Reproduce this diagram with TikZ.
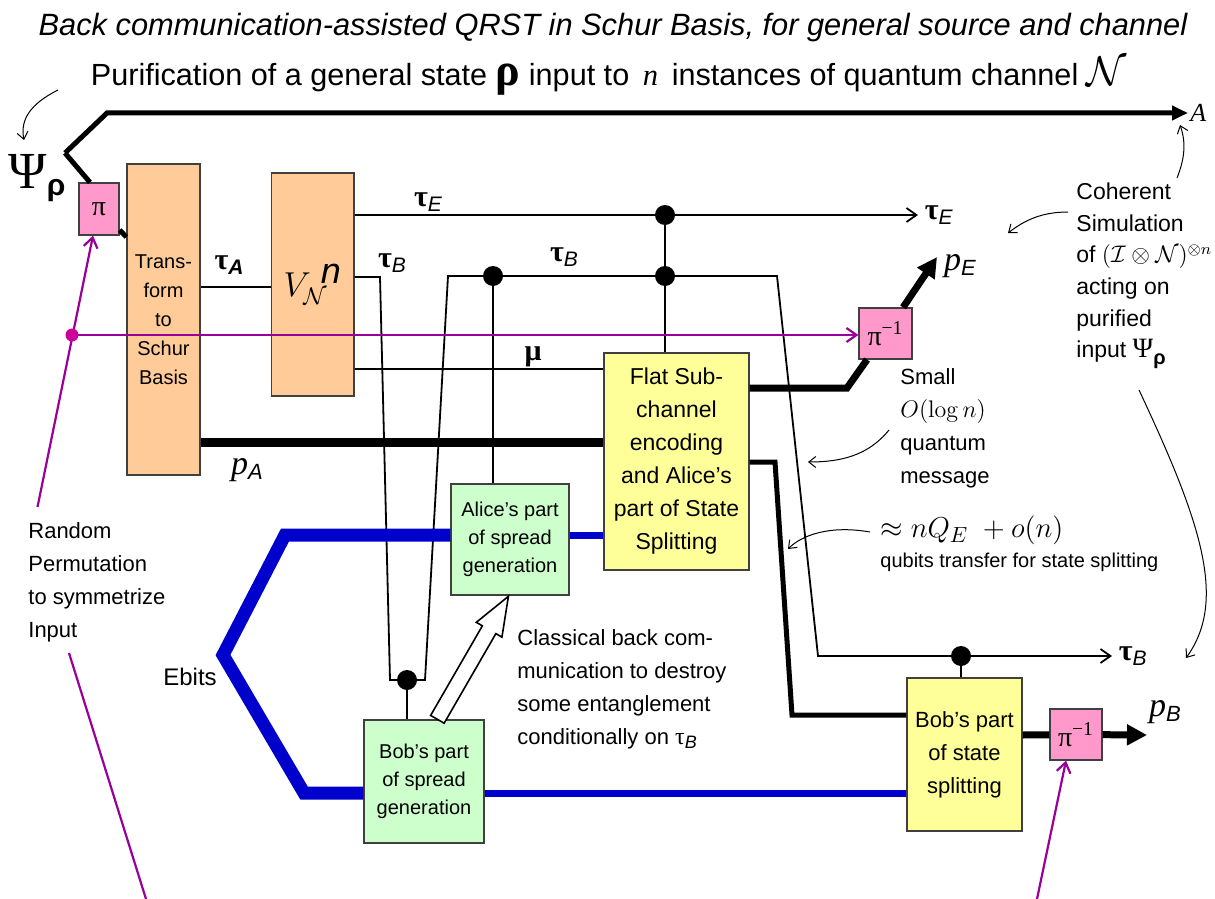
\documentclass[tikz,border=0pt]{standalone}
\usepackage[no-math]{fontspec}
\setmainfont{Liberation Sans}
\newfontfamily\grk{Liberation Serif}
\usetikzlibrary{arrows.meta,shapes.arrows}

\definecolor{peach}{HTML}{FFCC99}
\definecolor{pinkbox}{HTML}{FF99CC}
\definecolor{yellowbox}{HTML}{FFFF99}
\definecolor{greenbox}{HTML}{CCFFCC}
\definecolor{ebit}{HTML}{0000CC}
\definecolor{perm}{HTML}{990099}
\definecolor{permdot}{HTML}{CC0099}

\newcommand{\fs}[2]{\fontsize{#1}{#2}\selectfont}
\newcommand{\tauLab}[1]{{\grk\bfseries\fs{15}{15}τ}\raisebox{-0.45ex}{\fs{10.5}{10.5}\itshape #1}}
\newcommand{\pLab}[1]{{\grk\itshape\fs{17}{17}p}\raisebox{-0.5ex}{\fs{11}{11}\itshape #1}}

\tikzset{
  box/.style={draw=black!75, line width=0.6pt, inner sep=0pt, align=center},
  wire/.style={line width=0.9pt},
  mainwire/.style={line width=2.5pt},
  fat/.style={line width=4.5pt},
  heavy/.style={line width=3.5pt},
  ebitfat/.style={ebit, line width=6.5pt, line join=miter},
  ebitthin/.style={ebit, line width=3.5pt},
  permline/.style={perm, line width=1.1pt},
  note/.style={line width=0.5pt, -{Straight Barb[length=3.5pt,width=5.5pt]}},
  open/.style={-{Straight Barb[length=5pt,width=7pt]}},
  solid tip/.style={-{Triangle[length=10pt,width=10pt]}},
  txt/.style={inner sep=0pt, align=left, anchor=west}
}

\begin{document}
\begin{tikzpicture}[x=0.5pt,y=-0.5pt]
\useasboundingbox (0,0) rectangle (1215,899);

% headings
\node (title) at (613,28) {\fs{15.4}{17}\itshape Back communication-assisted QRST in Schur Basis, for general source and channel};
\node (purif) at (609,76) {\fs{15.3}{18}Purification of a general state {\grk\bfseries\fs{23}{18}ρ} input to \,{\grk\itshape n}\, instances of quantum channel {\fs{20}{18}$\mathcal{N}$}};
\node (psi) at (37,178) {{\grk\fs{26}{26}Ψ}\raisebox{-0.7ex}{\bfseries\fs{15}{15}ρ}};

% boxes
\node[box, fill=pinkbox, minimum width=20pt, minimum height=26pt] (pi) at (99,209) {\grk\fs{14}{14}π};
\node[box, fill=peach, minimum width=36.5pt, minimum height=155.5pt, font=\fs{10}{14.5}] (schur) at (163.5,319.5) {Trans-\\form\\to\\Schur\\Basis};
\node[box, fill=peach, minimum width=41.25pt, minimum height=111.5pt] (chan) at (312.75,284.5) {\fs{18}{18}$V_{\mathcal{N}}^{\hspace{5pt}\textit{n}}$};
\node[box, fill=yellowbox, minimum width=72.5pt, minimum height=108.5pt, font=\fs{11.5}{16.5}] (flat) at (676.5,461.5) {Flat Sub-\\channel\\encoding\\and Alice’s\\part of State\\Splitting};
\node[box, fill=pinkbox, minimum width=26.5pt, minimum height=25.5pt] (inv1) at (885.5,333.5) {\grk\fs{14}{14}π\textsuperscript{−1}};
\node[box, fill=greenbox, minimum width=59pt, minimum height=55.5pt, font=\fs{10}{14}] (aspr) at (510,539.5) {Alice’s part\\of spread\\generation};
\node[box, fill=greenbox, minimum width=60pt, minimum height=61.5pt, font=\fs{10}{14}] (bspr) at (424,781.5) {Bob’s part\\of spread\\generation};
\node[box, fill=yellowbox, minimum width=57.5pt, minimum height=76.5pt, font=\fs{11}{16.5}] (bsplit) at (964.5,754.5) {Bob’s part\\of state\\splitting};
\node[box, fill=pinkbox, minimum width=26pt, minimum height=25.5pt] (inv2) at (1076,734.5) {\grk\fs{14}{14}π\textsuperscript{−1}};

% wire labels
\node (tA) at (229,265) {\tauLab{\bfseries A}};
\node (tE1) at (428,202) {\tauLab{E}};
\node (tB1) at (392,263) {\tauLab{B}};
\node (tB2) at (564,257) {\tauLab{B}};
\node (mu) at (533,357) {\grk\bfseries\fs{15}{15}μ};
\node (pA) at (247,470) {\pLab{A}};
\node (pE) at (960,266) {\pLab{E}};
\node (pB) at (1165,712) {\pLab{B}};
\node[anchor=west, inner sep=1pt] (A) at (1188,113) {\grk\itshape\fs{13}{13}A};

% purification wire
\coordinate (split) at (65,153);
\coordinate (bend) at (107,113);
\coordinate (pin) at ([xshift=-4.5pt]pi.north);
\coordinate (tin) at (schur.west |- 0,237);
\draw[mainwire, -{Triangle[length=8pt,width=7pt]}] (split) -- (bend) -- (A.west);
\draw[mainwire] (split) -- (pin);
\draw[mainwire] (pi) -- (tin);

% wires between boxes
\draw[wire] (schur.east |- 0,287) -- (chan.west |- 0,287);
\draw[fat] (schur.east |- 0,442) -- (flat.west |- 0,442);
\draw[wire] (chan.east |- 0,369) -- (flat.west |- 0,369);

\coordinate (dotE) at (665,215);
\coordinate (dotF) at (665,276);
\coordinate (dotA) at (493,276);
\coordinate (dotS) at (407,680);
\coordinate (dotB) at (961,656);
\draw[wire, open] (chan.east |- dotE) -- (918,215) node[right, inner sep=3pt] (tE2) {\tauLab{E}};

\coordinate (b1) at (380,277);
\coordinate (b2) at (390,680);
\coordinate (b3) at (425,680);
\coordinate (b4) at (448,276);
\coordinate (b5) at (777,276);
\coordinate (b6) at (818,656);
\draw[wire, open] (chan.east |- b1) -- (b1) -- (b2) -- (b3) -- (b4) -- (b5) -- (b6) -- (1112,656) node[right, inner sep=3pt] (tB3) {\tauLab{B}};

\draw[wire] (dotE) -- (dotE |- flat.north);
\draw[wire] (dotA) -- (dotA |- aspr.north);
\draw[wire] (dotS) -- (dotS |- bspr.north);
\draw[wire] (dotB) -- (dotB |- bsplit.north);
\foreach \d in {dotE, dotF, dotA, dotS, dotB}
  \fill (\d) circle (10);

% quantum outputs
\draw[heavy] (flat.east |- 0,388) -- (847,388) -- (inv1);
\draw[heavy, solid tip] (inv1) -- (937,257);
\draw[mainwire] (flat.east |- 0,462) -- (775,462) -- (792,715) -- (bsplit.west |- 0,715);
\draw[heavy] (bsplit.east |- 0,735) -- (inv2);
\draw[heavy, solid tip] (inv2) -- (1147,735);

% ebits
\coordinate (e1) at (285,535);
\coordinate (e2) at (223,655);
\coordinate (e3) at (304,793);
\draw[ebitfat] (aspr.west |- e1) -- (e1) -- (e2) -- (e3) -- (bspr.west |- e3);
\draw[ebitthin] (aspr.east |- e1) -- (flat.west |- e1);
\draw[ebitthin] (bspr.east |- e3) -- (bsplit.west |- e3);

% classical back communication
\node[single arrow, draw, fill=white, line width=0.8pt, anchor=tail, rotate=60, minimum height=71pt, minimum width=14pt, single arrow head extend=3.5pt, single arrow tip angle=42, inner xsep=0pt, inner ysep=3.5pt] (back) at (437,720) {};

% random permutation
\coordinate (pdot) at (72,335);
\coordinate (rnd1) at (37.5,507);
\draw[permline, open] (rnd1) -- ([xshift=-3pt]pi.south);
\draw[permline, open] (pdot) -- (inv1.west |- pdot);
\fill[permdot] (pdot) circle (6.5);
\draw[permline] (69,653) -- (146,899);
\draw[permline, open] (1037,899) -- ([xshift=-5pt]inv2.south);

% comments
\node[txt, font=\fs{11}{16.5}] (rnd) at (28,582) {Random\\Permutation\\to symmetrize\\Input};
\node (ebits) at (190,677) {\fs{12}{14}Ebits};
\node[txt, font=\fs{11}{16.5}] (small) at (900,428) {Small\\{\fs{13}{16.5}$O(\log n)$}\\quantum\\message};
\node[txt] (qcost) at (880,530) {\fs{15}{18}$\approx nQ_E\; +o(n)$};
\node[txt, font=\fs{10}{12}] (qubits) at (880,562) {qubits transfer for state splitting};
\node[txt, font=\fs{11}{16.5}] (backcom) at (517,689) {Classical back com-\\munication to destroy\\some entanglement\\conditionally on {\grk\fs{12}{12}τ}\raisebox{-0.4ex}{\itshape\fs{9}{9}B}};
\node[txt, font=\fs{11.5}{15.8}] (coh) at (1076,276) {Coherent\\Simulation\\of $(\mathcal{I}\otimes\mathcal{N})^{\otimes n}$\\acting on\\purified\\input {\grk\fs{14}{14}Ψ}\raisebox{-0.6ex}{\bfseries\fs{10}{10}ρ}};

\draw[note] (58,90) .. controls (30,104) and (20,120) .. (24,140);
\draw[note] (1177,178) .. controls (1185,158) and (1186,142) .. (1180,125);
\draw[note] (1068,212) .. controls (1042,212) and (1025,220) .. (1008,233);
\draw[note] (889,430) .. controls (868,456) and (840,462) .. (808,462);
\draw[note] (870,532) .. controls (830,525) and (802,535) .. (788,549);
\draw[note] (1139,390) .. controls (1200,520) and (1228,600) .. (1186,658);
\end{tikzpicture}
\end{document}
